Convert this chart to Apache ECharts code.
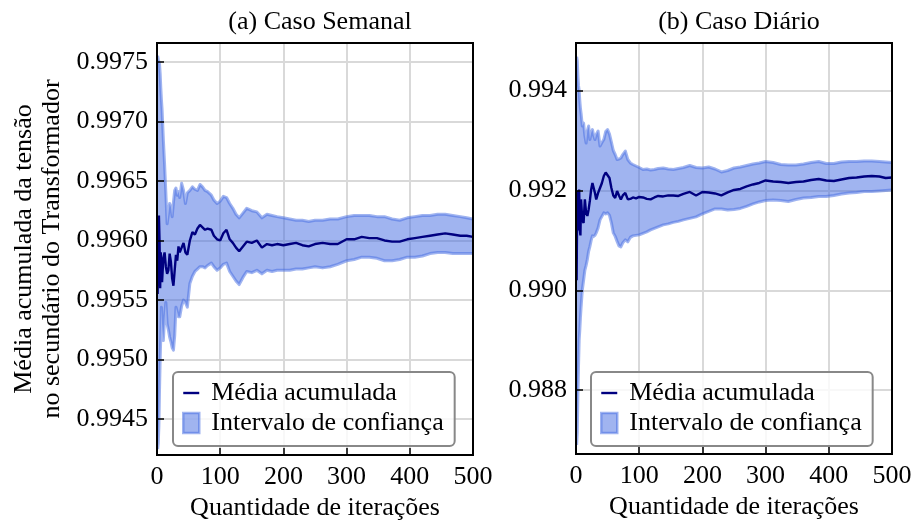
<!DOCTYPE html>
<html>
<head>
<meta charset="utf-8">
<script src="https://cdn.jsdelivr.net/npm/echarts@6/dist/echarts.min.js"></script>
<style>
  html, body { margin: 0; padding: 0; background: #fff; }
  #chart { width: 915px; height: 526px; }
</style>
</head>
<body>
<div id="chart"></div>
<script>
// ---- (a) Caso Semanal: cumulative mean and confidence bounds per iteration ----
const iterSemanal = [1,2,3,4,5,6,7,8,10,12,14,16,18,20,22,24,26,28,30,32,34,36,39,42,45,48,
  52,56,60,64,68,72,76,80,86,90,95,100,105,110,115,120,125,130,136,142,150,158,166,174,182,190,200,
  210,220,230,240,250,262,274,286,300,312,324,336,348,360,372,384,396,408,420,432,444,456,468,480,490,500];
const mediaSemanal = [
  0.99555,0.99610,0.99621,0.99600,0.99560,0.99590,0.99575,0.99565,
  0.99585,0.99590,0.99578,0.99572,0.99575,0.99589,0.99582,0.99568,0.99562,0.99575,0.99588,0.99583,0.99595,0.99590,
  0.99589,0.99598,0.99590,0.99588,
  0.99600,0.99607,0.99605,0.99610,0.99613,0.99611,0.99609,0.99610,
  0.99609,0.99604,0.99601,0.99600,0.99606,0.99609,0.99601,0.99598,0.99594,0.99591,
  0.99595,0.99599,0.99598,0.99600,0.99594,0.99597,0.99596,0.99597,0.99596,
  0.99597,0.99598,0.99596,0.99595,0.99597,
  0.99598,0.99597,0.99597,0.99601,
  0.99601,0.99603,0.99602,0.99602,0.99600,0.99599,0.99599,0.99601,0.99602,0.99603,0.99604,0.99605,0.99606,0.99605,0.99604,
  0.99604,0.99603];
const supSemanal = [
  0.99755,0.99752,0.99750,0.99748,0.99740,0.99728,0.99718,0.99710,
  0.99685,0.99664,0.99640,0.99614,0.99622,0.99631,0.99628,0.99620,0.99632,0.99642,0.99644,0.99638,0.99641,0.99636,
  0.99648,0.99642,0.99631,0.99640,
  0.99642,0.99645,0.99643,0.99642,0.99647,0.99645,0.99642,0.99641,
  0.99638,0.99634,0.99631,0.99633,0.99637,0.99636,0.99631,0.99627,0.99622,0.99619,
  0.99623,0.99627,0.99625,0.99624,0.99619,0.99622,0.99621,0.99620,0.99619,
  0.99618,0.99617,0.99617,0.99616,0.99617,
  0.99617,0.99618,0.99618,0.99620,
  0.99621,0.99621,0.99621,0.99620,0.99620,0.99618,0.99617,0.99619,0.99620,0.99621,0.99621,0.99622,0.99622,0.99621,0.99620,
  0.99619,0.99618];
const infSemanal = [
  0.99425,0.99430,0.99445,0.99475,0.99500,0.99520,0.99544,0.99530,
  0.99516,0.99535,0.99548,0.99530,0.99525,0.99519,0.99515,0.99510,0.99508,0.99520,0.99544,0.99540,0.99536,0.99536,
  0.99545,0.99550,0.99548,0.99544,
  0.99564,0.99570,0.99574,0.99576,0.99578,0.99578,0.99577,0.99579,
  0.99581,0.99578,0.99575,0.99577,0.99580,0.99581,0.99574,0.99570,0.99566,0.99563,
  0.99569,0.99574,0.99573,0.99575,0.99572,0.99575,0.99574,0.99575,0.99575,
  0.99575,0.99576,0.99576,0.99577,0.99578,
  0.99577,0.99578,0.99580,0.99583,
  0.99584,0.99586,0.99586,0.99585,0.99583,0.99583,0.99584,0.99586,0.99586,0.99587,0.99589,0.99590,0.99590,0.99589,0.99589,
  0.99589,0.99589];

// ---- (b) Caso Diário ----
const iterDiario = [1,2,3,4,5,6,7,8,10,12,14,16,18,20,22,24,26,28,30,32,
  35,38,41,44,47,50,53,56,59,62,65,68,71,74,78,82,86,90,95,100,106,112,118,124,130,
  138,146,154,162,170,180,190,200,210,220,230,240,250,260,270,280,290,300,
  312,324,336,348,360,372,384,396,408,420,432,444,456,468,480,490,500];
const mediaDiario = [
  0.99020,0.99200,0.99180,0.99120,0.99202,0.99122,0.99110,0.99182,
  0.99140,0.99135,0.99182,0.99155,0.99149,0.99162,0.99180,0.99202,0.99215,0.99219,0.99195,0.99182,
  0.99195,0.99205,0.99215,0.99229,0.99236,0.99239,0.99225,0.99205,0.99190,0.99185,0.99199,0.99190,0.99182,0.99190,
  0.99195,0.99182,0.99183,0.99186,
  0.99184,0.99187,
  0.99186,0.99183,0.99182,0.99186,0.99189,
  0.99188,0.99190,0.99190,0.99189,0.99193,
  0.99197,0.99190,0.99197,0.99196,0.99194,0.99190,0.99196,0.99201,0.99203,0.99208,0.99212,0.99215,0.99220,
  0.99218,0.99217,0.99215,0.99217,0.99218,0.99221,0.99223,0.99220,0.99219,0.99222,0.99225,0.99226,0.99228,0.99229,0.99228,
  0.99225,0.99226];
const supDiario = [
  0.99468,0.99460,0.99430,0.99410,0.99400,0.99380,0.99365,0.99355,
  0.99329,0.99335,0.99310,0.99295,0.99320,0.99329,0.99302,0.99315,0.99322,0.99310,0.99302,0.99312,
  0.99319,0.99289,0.99296,0.99302,0.99318,0.99322,0.99313,0.99297,0.99280,0.99272,0.99262,0.99263,0.99265,0.99272,
  0.99279,0.99262,0.99255,0.99252,
  0.99249,0.99246,
  0.99242,0.99243,0.99241,0.99242,0.99244,
  0.99245,0.99243,0.99242,0.99244,0.99246,
  0.99250,0.99246,0.99245,0.99247,0.99243,0.99237,0.99240,0.99245,0.99247,0.99250,0.99253,0.99255,0.99258,
  0.99256,0.99252,0.99251,0.99251,0.99253,0.99256,0.99258,0.99254,0.99254,0.99257,0.99258,0.99258,0.99259,0.99259,0.99258,
  0.99257,0.99256];
const infDiario = [
  0.98690,0.98715,0.98790,0.98850,0.98900,0.98920,0.98945,0.98965,
  0.99001,0.99020,0.99040,0.99050,0.99062,0.99078,0.99088,0.99100,0.99109,0.99108,0.99110,0.99115,
  0.99125,0.99141,0.99148,0.99155,0.99153,0.99155,0.99150,0.99135,0.99115,0.99108,0.99098,0.99089,0.99087,0.99095,
  0.99101,0.99097,0.99106,0.99109,
  0.99110,0.99111,
  0.99114,0.99117,0.99121,0.99124,0.99127,
  0.99131,0.99133,0.99136,0.99138,0.99141,
  0.99144,0.99147,0.99153,0.99158,0.99163,0.99163,0.99161,0.99162,0.99164,0.99168,0.99173,0.99177,0.99180,
  0.99181,0.99180,0.99178,0.99182,0.99185,0.99186,0.99188,0.99188,0.99190,0.99193,0.99195,0.99196,0.99198,0.99198,0.99199,
  0.99200,0.99201];

// ---- axis ticks and texts ----
const xTicks = [0, 100, 200, 300, 400, 500];
const yTicksSemanal = [0.9945, 0.9950, 0.9955, 0.9960, 0.9965, 0.9970, 0.9975];
const yTicksDiario = [0.988, 0.990, 0.992, 0.994];
const titles = ['(a) Caso Semanal', '(b) Caso Diário'];
const xName = 'Quantidade de iterações';
const yName = 'Média acumulada da tensão\nno secundário do Transformador';
const legendNames = ['Média acumulada', 'Intervalo de confiança'];

const FONT = 'Liberation Serif';
const txt = { fontFamily: FONT, fontSize: 26, color: '#000', fontWeight: 'normal' };
const BAND = 'rgba(65,105,225,0.5)';
const MEAN = '#000080';
const GRIDLINE = '#d9d9d9';

const panels = [
  { iter: iterSemanal, media: mediaSemanal, sup: supSemanal, inf: infSemanal,
    yTicks: yTicksSemanal, decimals: 4, yMin: 0.99420, yMax: 0.997657,
    rect: { left: 157, top: 43, width: 316, height: 412 }, legendLeft: 173, yName: yName },
  { iter: iterDiario, media: mediaDiario, sup: supDiario, inf: infDiario,
    yTicks: yTicksDiario, decimals: 3, yMin: 0.98672, yMax: 0.994954,
    rect: { left: 576, top: 43, width: 316, height: 411 }, legendLeft: 591, yName: '' }
];

// Confidence band: one filled polygon (upper bound forward, lower bound back)
// plus the two bound lines, all placed through the axes with api.coord.
function bandRenderer(p) {
  return function (params, api) {
    if (params.dataIndex !== 0) return null;
    const upper = p.iter.map((x, k) => api.coord([x, p.sup[k]]));
    const lower = p.iter.map((x, k) => api.coord([x, p.inf[k]]));
    const cs = params.coordSys;
    return {
      type: 'group',
      clipPath: { type: 'rect', shape: { x: cs.x, y: cs.y, width: cs.width, height: cs.height } },
      children: [
        { type: 'polygon', shape: { points: upper.concat(lower.slice().reverse()) },
          style: { fill: BAND, stroke: null } },
        { type: 'polyline', shape: { points: upper },
          style: { fill: null, stroke: BAND, lineWidth: 3, lineJoin: 'round' } },
        { type: 'polyline', shape: { points: lower },
          style: { fill: null, stroke: BAND, lineWidth: 3, lineJoin: 'round' } }
      ]
    };
  };
}

const grid = [], xAxis = [], yAxis = [], series = [], legend = [], title = [];

panels.forEach((p, i) => {
  grid.push(Object.assign({ show: true, z: 10, borderColor: '#000', borderWidth: 2,
    backgroundColor: 'transparent' }, p.rect));

  // axis with ticks, labels and name (drawn above the band)
  xAxis.push({
    type: 'value', gridIndex: i, min: 0, max: 500, position: 'bottom', z: 11,
    axisLine: { show: false },
    axisTick: { show: true, inside: true, length: 7, customValues: xTicks,
      lineStyle: { color: '#000', width: 1.5 } },
    axisLabel: { customValues: xTicks, margin: 9, ...txt },
    splitLine: { show: false },
    name: xName, nameLocation: 'middle', nameGap: 38, nameTextStyle: { ...txt }
  });
  // axis carrying only the grid lines (drawn beneath the band)
  xAxis.push({
    type: 'value', gridIndex: i, min: 0, max: 500, z: 0,
    axisLine: { show: false },
    axisTick: { show: false, customValues: xTicks },
    axisLabel: { show: false, customValues: xTicks },
    splitLine: { show: true, lineStyle: { color: GRIDLINE, width: 2 } }
  });

  yAxis.push({
    type: 'value', gridIndex: i, min: p.yMin, max: p.yMax, position: 'left', z: 11,
    axisLine: { show: false },
    axisTick: { show: true, inside: true, length: 7, customValues: p.yTicks,
      lineStyle: { color: '#000', width: 1.5 } },
    axisLabel: { customValues: p.yTicks, margin: 9, ...txt,
      formatter: v => Number(v).toFixed(p.decimals) },
    splitLine: { show: false },
    name: p.yName, nameLocation: 'middle', nameGap: 91, nameRotate: 90,
    nameTextStyle: { ...txt, lineHeight: 28, align: 'center' }
  });
  yAxis.push({
    type: 'value', gridIndex: i, min: p.yMin, max: p.yMax, z: 0,
    axisLine: { show: false },
    axisTick: { show: false, customValues: p.yTicks },
    axisLabel: { show: false, customValues: p.yTicks },
    splitLine: { show: true, lineStyle: { color: GRIDLINE, width: 2 } }
  });

  const xi = 2 * i, yi = 2 * i;

  series.push({
    type: 'custom', name: legendNames[1], xAxisIndex: xi, yAxisIndex: yi, z: 2,
    silent: true, animation: false,
    data: p.iter.map((x, k) => [x, p.inf[k], p.sup[k]]),
    encode: { x: 0, y: [1, 2] },
    itemStyle: { color: BAND },
    renderItem: bandRenderer(p)
  });
  series.push({
    type: 'line', name: legendNames[0], xAxisIndex: xi, yAxisIndex: yi, z: 3,
    symbol: 'none', showSymbol: false, clip: true, silent: true, animation: false,
    data: p.iter.map((x, k) => [x, p.media[k]]),
    lineStyle: { color: MEAN, width: 2.4 }
  });

  legend.push({
    left: p.legendLeft, top: 372, orient: 'vertical', selectedMode: false, z: 12,
    data: [
      { name: legendNames[0], icon: 'path://M0,0H16V2.4H0Z', itemStyle: { color: MEAN } },
      { name: legendNames[1], icon: 'rect',
        itemStyle: { color: BAND, borderColor: BAND, borderWidth: 2.5 } }
    ],
    itemWidth: 16, itemHeight: 20, itemGap: 4,
    textStyle: { ...txt, lineHeight: 26, padding: [0, 0, 0, 7] },
    padding: [8, 11, 10, 9],
    backgroundColor: 'rgba(255,255,255,0.8)', borderColor: '#888', borderWidth: 2, borderRadius: 5
  });

  title.push({
    text: titles[i], left: p.rect.left + p.rect.width / 2, top: 4, textAlign: 'center',
    textStyle: { ...txt }
  });
});

const chart = echarts.init(document.getElementById('chart'), null, { renderer: 'canvas' });
chart.setOption({ animation: false, backgroundColor: '#fff', title, grid, xAxis, yAxis, legend, series });
</script>
</body>
</html>
